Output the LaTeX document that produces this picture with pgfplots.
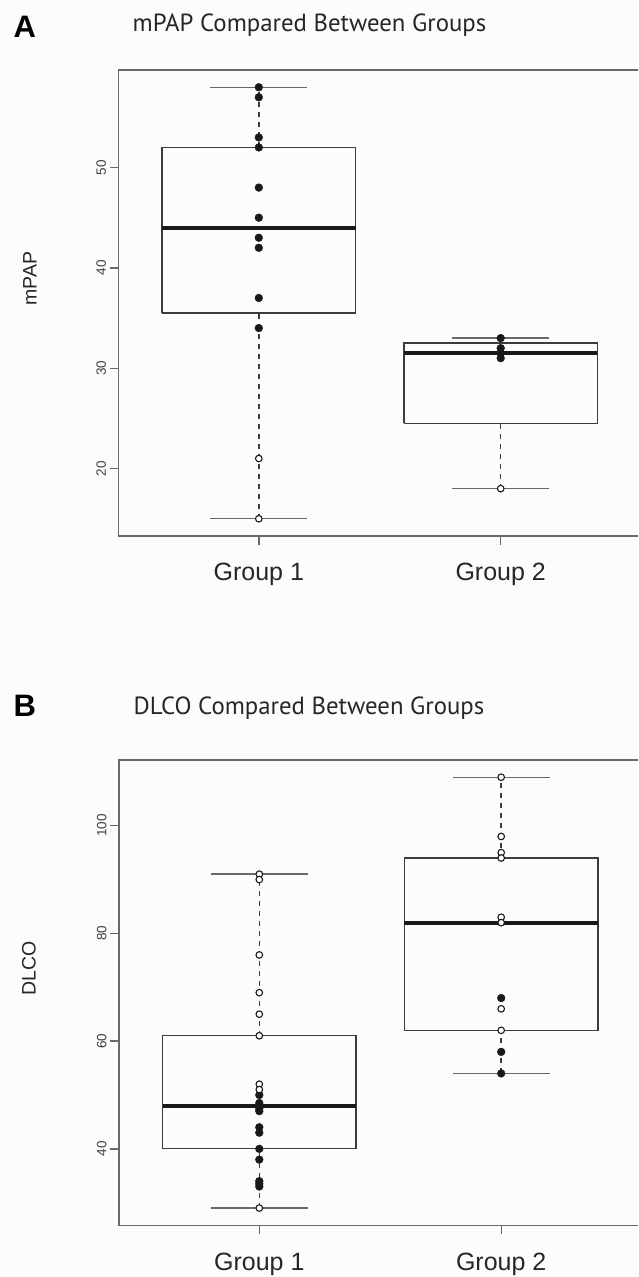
\documentclass[border=0pt]{standalone}
\usepackage{pgfplots}
\pgfplotsset{compat=1.18}
\usepackage{fontspec}
\setmainfont{Liberation Sans}
\newfontfamily\titlefont{PT Sans}
\definecolor{bg}{RGB}{251,252,253}
\definecolor{framegray}{RGB}{105,105,105}
\definecolor{boxcol}{RGB}{60,60,60}
\pgfplotsset{
  rbox/.style={
    scale only axis, width=522.5pt,
    xmin=0.42, xmax=2.58,
    axis line style={framegray, line width=1.6pt},
    tick style={framegray, line width=1.4pt},
    tick align=outside, major tick length=9pt,
    xtick={1,2}, xticklabels={Group 1, Group 2},
    xtick pos=bottom, ytick pos=left,
    xticklabel style={font=\fontsize{25}{28}\selectfont, text=black!85, anchor=base, yshift=-36pt},
    yticklabel style={font=\fontsize{13.5}{15}\selectfont, text=black!75, rotate=90, anchor=south},
    /pgf/number format/assume math mode=true,
    clip=false,
  },
  boxln/.style={boxcol, line width=1.3pt, mark=none},
  medln/.style={black!90, line width=4pt, mark=none},
  stemln/.style={boxcol, line width=1.5pt, dash pattern=on 5pt off 5pt, mark=none},
  capln/.style={framegray, line width=1.4pt, mark=none},
  mkfilled/.style={only marks, mark=*, mark size=3.9pt, black!90, mark options={fill=black!90, draw=black!90}},
  mkopen/.style={only marks, mark=*, mark size=3.3pt, black!90, mark options={fill=white, draw=black!90, line width=1.1pt}},
}
\begin{document}
\begin{tikzpicture}
\path[use as bounding box] (0pt,0pt) rectangle (638pt,1277pt);
\clip (0pt,0pt) rectangle (638pt,1277pt);
\fill[bg] (0pt,0pt) rectangle (638pt,1277pt);

% ---------- Panel A ----------
\node[anchor=base west, font=\bfseries\fontsize{31}{34}\selectfont] at (10pt,1239pt) {A};
\node[anchor=base, font=\titlefont\fontsize{24.8}{28}\selectfont, text=black!85] at (309.5pt,1245.3pt) {mPAP Compared Between Groups};
\node[rotate=90, font=\fontsize{19.5}{22}\selectfont, text=black!85] at (30pt,998.5pt) {mPAP};
\begin{axis}[rbox, at={(118.5pt,741pt)}, anchor=south west, height=466pt,
  ymin=13.28, ymax=59.72, ytick={20,30,40,50}]
% group 1: whiskers 15-58, box 35.5/44/52
\addplot[stemln] coordinates {(1,15) (1,35.5)};
\addplot[stemln] coordinates {(1,52) (1,58)};
\addplot[capln] coordinates {(0.8,15) (1.2,15)};
\addplot[capln] coordinates {(0.8,58) (1.2,58)};
\addplot[boxln] coordinates {(0.6,35.5) (1.4,35.5) (1.4,52) (0.6,52) (0.6,35.5)};
\addplot[medln] coordinates {(0.6,44) (1.4,44)};
% group 2: whiskers 18-33, box 24.5/31.5/32.5
\addplot[stemln] coordinates {(2,18) (2,24.5)};
\addplot[stemln] coordinates {(2,32.5) (2,33)};
\addplot[capln] coordinates {(1.8,18) (2.2,18)};
\addplot[capln] coordinates {(1.8,33) (2.2,33)};
\addplot[boxln] coordinates {(1.6,24.5) (2.4,24.5) (2.4,32.5) (1.6,32.5) (1.6,24.5)};
\addplot[medln] coordinates {(1.6,31.5) (2.4,31.5)};
\addplot[mkfilled] coordinates {(1,58) (1,57) (1,53) (1,52) (1,48) (1,45) (1,43) (1,42) (1,37) (1,34)
  (2,33) (2,32) (2,31.5) (2,31)};
\addplot[mkopen] coordinates {(1,21) (1,15) (2,18)};
\end{axis}

% ---------- Panel B ----------
\node[anchor=base west, font=\bfseries\fontsize{31}{34}\selectfont] at (10pt,560pt) {B};
\node[anchor=base, font=\titlefont\fontsize{24.8}{28}\selectfont, text=black!85] at (309pt,562pt) {DLCO Compared Between Groups};
\node[rotate=90, font=\fontsize{19.5}{22}\selectfont, text=black!85] at (29pt,309pt) {DLCO};
\begin{axis}[rbox, at={(119pt,51.7pt)}, anchor=south west, height=465.3pt,
  ymin=25.8, ymax=112.2, ytick={40,60,80,100}]
% group 1: whiskers 29-91, box 40/48/61
\addplot[stemln] coordinates {(1,29) (1,40)};
\addplot[stemln] coordinates {(1,61) (1,91)};
\addplot[capln] coordinates {(0.8,29) (1.2,29)};
\addplot[capln] coordinates {(0.8,91) (1.2,91)};
\addplot[boxln] coordinates {(0.6,40) (1.4,40) (1.4,61) (0.6,61) (0.6,40)};
\addplot[medln] coordinates {(0.6,48) (1.4,48)};
% group 2: whiskers 54-109, box 62/82/94
\addplot[stemln] coordinates {(2,54) (2,62)};
\addplot[stemln] coordinates {(2,94) (2,109)};
\addplot[capln] coordinates {(1.8,54) (2.2,54)};
\addplot[capln] coordinates {(1.8,109) (2.2,109)};
\addplot[boxln] coordinates {(1.6,62) (2.4,62) (2.4,94) (1.6,94) (1.6,62)};
\addplot[medln] coordinates {(1.6,82) (2.4,82)};
\addplot[mkfilled] coordinates {(1,50) (1,48.5) (1,47.5) (1,47) (1,44) (1,43) (1,40) (1,38) (1,34) (1,33.5) (1,33)
  (2,68) (2,58) (2,54)};
\addplot[mkopen] coordinates {(1,91) (1,90) (1,76) (1,69) (1,65) (1,61) (1,52) (1,51) (1,29)
  (2,109) (2,98) (2,95) (2,94) (2,83) (2,82) (2,66) (2,62)};
\end{axis}
\end{tikzpicture}
\end{document}
